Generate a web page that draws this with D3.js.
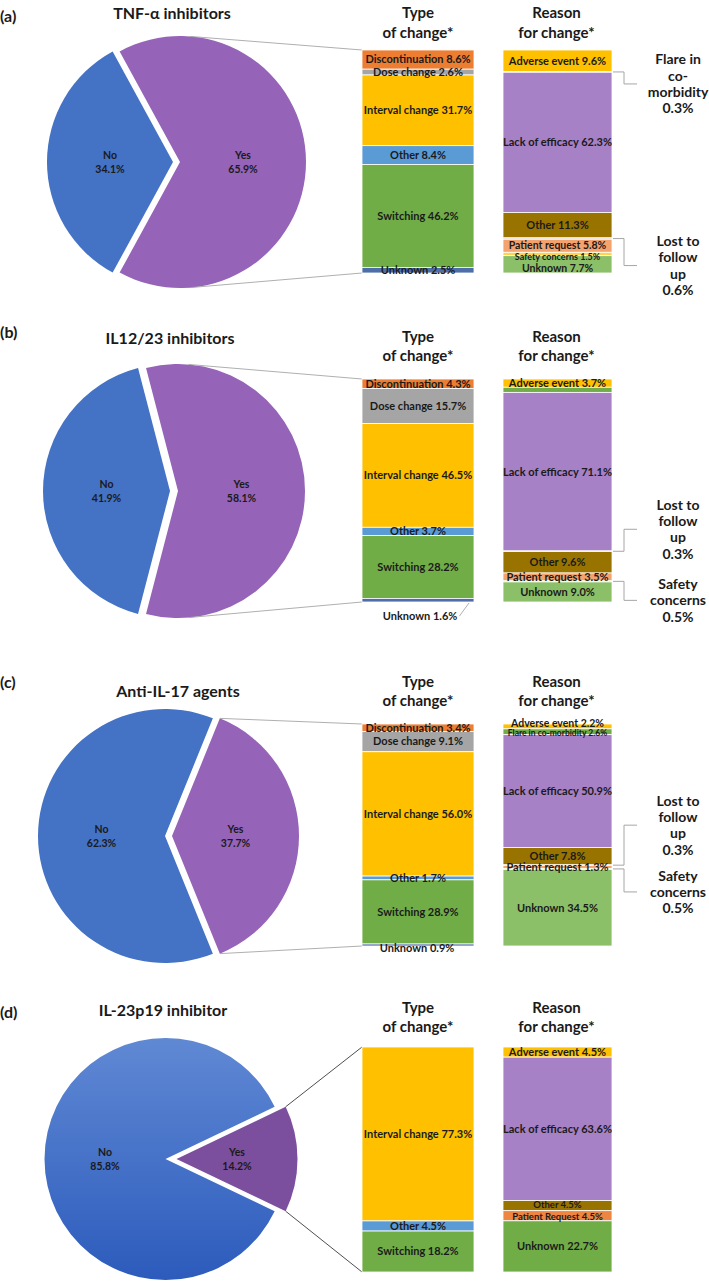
<!DOCTYPE html>
<html><head><meta charset="utf-8">
<script src="https://cdn.jsdelivr.net/npm/d3@7"></script>
<style>
body{margin:0;background:#fff}
svg{display:block}
text{font-family:Lato,"Open Sans",sans-serif;font-weight:700;fill:#1a1a1a}
</style>
</head><body><svg id="chart" width="709" height="1283"></svg>
<script>
// ---------- data ----------
const panelTags = ["(a)", "(b)", "(c)", "(d)"];
const panelTitles = ["TNF-α inhibitors", "IL12/23 inhibitors", "Anti-IL-17 agents", "IL-23p19 inhibitor"];
const pieYes = [65.9, 58.1, 37.7, 14.2];
const pieNo = [34.1, 41.9, 62.3, 85.8];
const typeHeader = ["Type", "of change*"];
const reasonHeader = ["Reason", "for change*"];
const typeNames = [
  ["Discontinuation", "Dose change", "Interval change", "Other", "Switching", "Unknown"],
  ["Discontinuation", "Dose change", "Interval change", "Other", "Switching", "Unknown"],
  ["Discontinuation", "Dose change", "Interval change", "Other", "Switching", "Unknown"],
  ["Interval change", "Other", "Switching"]
];
const typeValues = [
  [8.6, 2.6, 31.7, 8.4, 46.2, 2.5],
  [4.3, 15.7, 46.5, 3.7, 28.2, 1.6],
  [3.4, 9.1, 56.0, 1.7, 28.9, 0.9],
  [77.3, 4.5, 18.2]
];
const reasonNames = [
  ["Adverse event", "Flare in co-morbidity", "Lack of efficacy", "Other", "Lost to follow up", "Patient request", "Safety concerns", "Unknown"],
  ["Adverse event", "Flare in co-morbidity", "Lack of efficacy", "Lost to follow up", "Other", "Patient request", "Safety concerns", "Unknown"],
  ["Adverse event", "Flare in co-morbidity", "Lack of efficacy", "Other", "Lost to follow up", "Patient request", "Safety concerns", "Unknown"],
  ["Adverse event", "Lack of efficacy", "Other", "Patient Request", "Unknown"]
];
const reasonValues = [
  [9.6, 0.3, 62.3, 11.3, 0.6, 5.8, 1.5, 7.7],
  [3.7, 2.3, 71.1, 0.3, 9.6, 3.5, 0.5, 9.0],
  [2.2, 2.6, 50.9, 7.8, 0.3, 1.3, 0.5, 34.5],
  [4.5, 63.6, 4.5, 4.5, 22.7]
];
const calloutNames = [
  ["Flare in co-morbidity", "Lost to follow up"],
  ["Lost to follow up", "Safety concerns"],
  ["Lost to follow up", "Safety concerns"],
  []
];
const unlabeledReasons = [[], ["Flare in co-morbidity"], [], []];
const calloutLines = {
  "Flare in co-morbidity": ["Flare in", "co-", "morbidity"],
  "Lost to follow up": ["Lost to", "follow", "up"],
  "Safety concerns": ["Safety", "concerns"]
};

// ---------- styles / layout ----------
const typeColors = {
  "Discontinuation": "#ED7D31", "Dose change": "#A5A5A5", "Interval change": "#FFC000",
  "Other": "#5B9BD5", "Switching": "#70AD47", "Unknown": "#4E6EAA"
};
const reasonColors = {
  "Adverse event": "#FFC000", "Flare in co-morbidity": "#70AD47", "Lack of efficacy": "#A781C6",
  "Other": "#997300", "Lost to follow up": "#CFCFCF", "Patient request": "#F4A26E",
  "Patient Request": "#EE8540", "Safety concerns": "#FFD34F", "Unknown": "#8CC068"
};
const reasonColorOverride = [{}, {}, {}, {"Unknown": "#70AD47"}];
const layout = [
  {tagY: 16, titleX: 172, titleY: 13, cx: 176.5, cy: 162, r: 126, ex: 3.5, top: 50, bot: 273, h1: 13, h2: 33, line: "#A6A6A6"},
  {tagY: 332, titleX: 170, titleY: 338, cx: 174, cy: 491, r: 127, ex: 4, top: 379, bot: 602, h1: 337, h2: 356, line: "#A6A6A6"},
  {tagY: 682, titleX: 178, titleY: 691, cx: 168.5, cy: 836, r: 127, ex: 3.5, top: 724, bot: 946, h1: 682, h2: 701, line: "#A6A6A6"},
  {tagY: 1012, titleX: 163, titleY: 1010, cx: 171, cy: 1159, r: 121, ex: 5.5, top: 1047, bot: 1272, h1: 1008, h2: 1027, line: "#3a3a3a"}
];
const calloutDy = [[12, 27], [-22, 19], [-40, 23], []];
const typeOutside = [null, {name: "Unknown", dx: 2, dy: 16, leader: true}, {name: "Unknown", dx: -1, dy: 3}, null];
// small vertical nudges / sizes for crowded labels: [dy, font size]
const labelNudge = [
  {"Patient request": [0, 10.5], "Safety concerns": [3, 9], "Unknown": [3.5, 10.5]},
  {},
  {"Adverse event": [-3, 10.5], "Flare in co-morbidity": [1.5, 8.5]},
  {"Other": [-0.5, 9.5], "Patient Request": [0.5, 9.5]}
];
const typeX0 = 362, typeX1 = 474, reasonX0 = 503, reasonX1 = 612;
const calloutX = 678;
const barFont = 11;

const svg = d3.select("#chart");
const defs = svg.append("defs");
const grad = defs.append("linearGradient").attr("id", "blueGrad").attr("x1", 0).attr("y1", 0).attr("x2", 0).attr("y2", 1);
grad.append("stop").attr("offset", "0%").attr("stop-color", "#6089D4");
grad.append("stop").attr("offset", "100%").attr("stop-color", "#2C5BBC");

function stackBar(g, names, values, x0, x1, top, bot, colors) {
  const y = d3.scaleLinear().domain([0, d3.sum(values)]).range([top, bot]);
  const cum = [0, ...d3.cumsum(values)];
  const segs = names.map((n, k) => ({name: n, v: values[k], y0: y(cum[k]), y1: y(cum[k + 1])}));
  g.selectAll(null).data(segs).join("rect")
    .attr("x", x0).attr("width", x1 - x0)
    .attr("y", d => d.y0).attr("height", d => Math.max(0, d.y1 - d.y0))
    .attr("fill", d => colors(d.name))
    .attr("stroke", "#fff").attr("stroke-width", 0.8);
  return segs;
}

layout.forEach((L, i) => {
  const g = svg.append("g");
  g.append("text").attr("x", 0).attr("y", L.tagY).attr("dy", "0.35em").attr("font-size", 16).text(panelTags[i]);
  g.append("text").attr("x", L.titleX).attr("y", L.titleY).attr("dy", "0.35em").attr("text-anchor", "middle").attr("font-size", 16).text(panelTitles[i]);

  // pie
  const yesFrac = pieYes[i] / (pieYes[i] + pieNo[i]);
  const start = Math.PI / 2 - yesFrac * Math.PI;
  const arcs = d3.pie().sort(null).value(d => d.v).startAngle(start).endAngle(start + 2 * Math.PI)(
    [{k: "Yes", v: pieYes[i]}, {k: "No", v: pieNo[i]}]);
  const arcGen = d3.arc().innerRadius(0).outerRadius(L.r);
  let yesCenter = null, yesArc = null;
  arcs.forEach(a => {
    const m = (a.startAngle + a.endAngle) / 2;
    const ox = L.cx + Math.sin(m) * L.ex, oy = L.cy - Math.cos(m) * L.ex;
    const sg = g.append("g").attr("transform", `translate(${ox},${oy})`);
    let fill = a.data.k === "Yes" ? "#9563B8" : "#4472C4";
    if (i === 3) fill = a.data.k === "Yes" ? "#7B4F9E" : "url(#blueGrad)";
    sg.append("path").attr("d", arcGen(a)).attr("fill", fill);
    const c = arcGen.centroid(a);
    const t = sg.append("text").attr("text-anchor", "middle").attr("font-size", 10.5);
    t.append("tspan").attr("x", c[0]).attr("y", c[1] - 3).text(a.data.k);
    t.append("tspan").attr("x", c[0]).attr("y", c[1] + 10.5).text(d3.format(".1f")(a.data.v) + "%");
    if (a.data.k === "Yes") { yesCenter = [ox, oy]; yesArc = a; }
  });

  function tangentPoint(P, upper) {
    const dx = P[0] - yesCenter[0], dy = P[1] - yesCenter[1];
    const d = Math.hypot(dx, dy);
    const th = Math.atan2(dx, -dy);
    const off = Math.acos(Math.min(1, L.r / d));
    let a = upper ? th - off : th + off;
    a = Math.max(yesArc.startAngle, Math.min(yesArc.endAngle, a));
    return [yesCenter[0] + L.r * Math.sin(a), yesCenter[1] - L.r * Math.cos(a)];
  }
  [[typeX0, L.top, true], [typeX0, L.bot, false]].forEach(([px, py, up]) => {
    const s = tangentPoint([px, py], up);
    g.append("line").attr("x1", s[0]).attr("y1", s[1]).attr("x2", px).attr("y2", py)
      .attr("stroke", L.line).attr("stroke-width", 0.9);
  });

  // headers
  [[typeHeader, (typeX0 + typeX1) / 2], [reasonHeader, (reasonX0 + reasonX1) / 2 - 1]].forEach(([h, x]) => {
    g.append("text").attr("x", x).attr("y", L.h1).attr("dy", "0.35em").attr("text-anchor", "middle").attr("font-size", 15).text(h[0]);
    g.append("text").attr("x", x).attr("y", L.h2).attr("dy", "0.35em").attr("text-anchor", "middle").attr("font-size", 15).text(h[1]);
  });

  // type bar
  const tSegs = stackBar(g, typeNames[i], typeValues[i], typeX0, typeX1, L.top, L.bot, n => typeColors[n]);
  tSegs.forEach(s => {
    const out = typeOutside[i] && typeOutside[i].name === s.name ? typeOutside[i] : null;
    const cx = (typeX0 + typeX1) / 2 + (out ? out.dx : 0);
    const cy = (s.y0 + s.y1) / 2 + (out ? out.dy : 0);
    const t = g.append("text").attr("x", cx).attr("y", cy).attr("dy", "0.35em").attr("text-anchor", "middle")
      .attr("font-size", barFont).text(`${s.name} ${d3.format(".1f")(s.v)}%`);
    if (out && out.leader) {
      const bb = t.node().getBBox();
      g.append("line").attr("x1", bb.x + bb.width + 2).attr("y1", cy).attr("x2", typeX1 - 5).attr("y2", s.y1 + 1)
        .attr("stroke", "#A6A6A6").attr("stroke-width", 0.9);
    }
  });

  // reason bar
  const rc = n => (reasonColorOverride[i][n] || reasonColors[n]);
  const rSegs = stackBar(g, reasonNames[i], reasonValues[i], reasonX0, reasonX1, L.top, L.bot, rc);
  rSegs.forEach(s => {
    const cyS = (s.y0 + s.y1) / 2;
    const ci = calloutNames[i].indexOf(s.name);
    if (ci >= 0) {
      const ey = cyS + calloutDy[i][ci];
      g.append("polyline")
        .attr("points", [[reasonX1 + 1, cyS], [reasonX1 + 12, cyS], [reasonX1 + 12, ey], [reasonX1 + 25, ey]].map(p => p.join(",")).join(" "))
        .attr("fill", "none").attr("stroke", "#A6A6A6").attr("stroke-width", 1);
      const lines = [...calloutLines[s.name], d3.format(".1f")(s.v) + "%"];
      const lh = 16.3;
      const t = g.append("text").attr("text-anchor", "middle").attr("font-size", 14);
      lines.forEach((ln, k) => {
        t.append("tspan").attr("x", calloutX).attr("y", ey + (k - (lines.length - 1) / 2) * lh).attr("dy", "0.35em").text(ln);
      });
      return;
    }
    if (unlabeledReasons[i].includes(s.name)) return;
    const nudge = labelNudge[i][s.name] || [0, barFont];
    g.append("text").attr("x", (reasonX0 + reasonX1) / 2).attr("y", cyS + nudge[0]).attr("dy", "0.35em").attr("text-anchor", "middle")
      .attr("font-size", nudge[1]).text(`${s.name} ${d3.format(".1f")(s.v)}%`);
  });
});
</script>
</body></html>
